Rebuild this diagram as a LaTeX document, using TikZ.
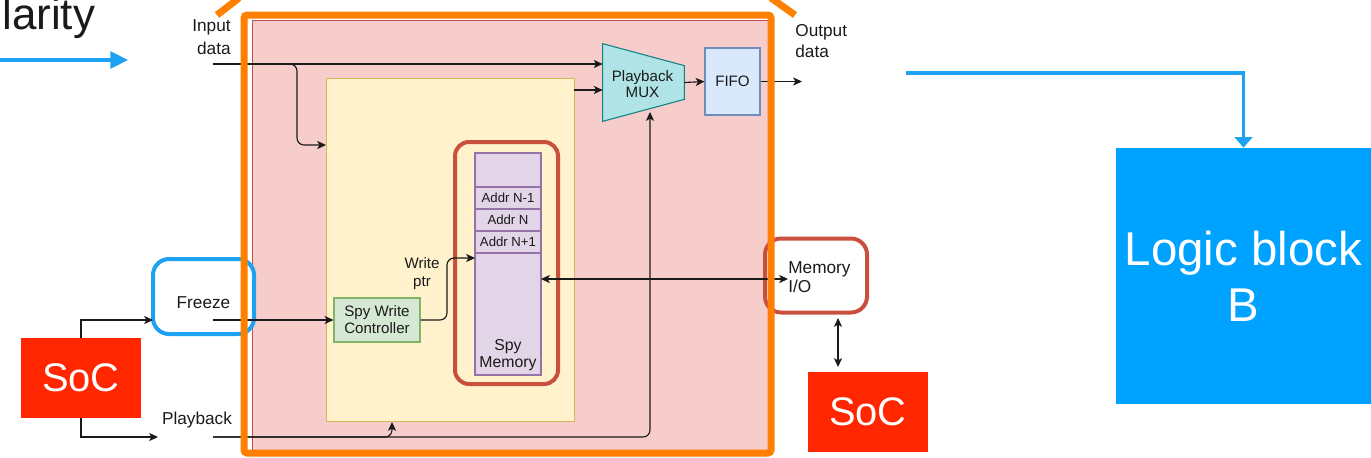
\documentclass[tikz,border=0pt]{standalone}
\usepackage{fontspec}
\setmainfont{Liberation Sans}
\usetikzlibrary{arrows.meta,calc}
\newcommand\pxu{0.02cm}
\definecolor{pinkf}{HTML}{F6CDCB}
\definecolor{pinkb}{HTML}{B85450}
\definecolor{yelf}{HTML}{FFF2CC}
\definecolor{yelb}{HTML}{D6B656}
\definecolor{muxf}{HTML}{B0E3E6}
\definecolor{muxb}{HTML}{0E8088}
\definecolor{fifof}{HTML}{DAE8FC}
\definecolor{fifob}{HTML}{6C8EBF}
\definecolor{memf}{HTML}{E1D5E7}
\definecolor{memb}{HTML}{9673A6}
\definecolor{swcf}{HTML}{D5E8D4}
\definecolor{swcb}{HTML}{82B366}
\definecolor{orng}{HTML}{FF8000}
\definecolor{ringc}{HTML}{C8503C}
\definecolor{bluec}{HTML}{1DA1F2}
\definecolor{socc}{HTML}{FF2600}
\definecolor{logicc}{HTML}{00A2FF}
\definecolor{txt}{HTML}{1A1A1A}
\begin{document}
\begin{tikzpicture}[x=0.02cm,y=-0.02cm,
  box/.style={draw, line width=0.6pt, inner sep=0pt, align=center, text=txt,
    font=\fontsize{8.6}{9.6}\selectfont},
  lbl/.style={inner sep=0pt, align=center, text=txt, font=\fontsize{9.8}{12.5}\selectfont},
  lbls/.style={inner sep=0pt, align=center, text=txt, font=\fontsize{8.6}{10.2}\selectfont},
  arr/.style={-{Stealth[length=5pt,width=4.6pt,inset=1.2pt]}, line width=0.65pt, draw=txt},
  biarr/.style={{Stealth[length=5pt,width=4.6pt,inset=1.2pt]}-{Stealth[length=5pt,width=4.6pt,inset=1.2pt]}, line width=0.65pt, draw=txt},
  hilite/.style={line width=4*\pxu, rounded corners=16*\pxu, inner sep=0pt},
  socbox/.style={fill=socc, text=white, inner sep=0pt, minimum width=120*\pxu,
    minimum height=80*\pxu, font=\fontsize{22.7}{27}\selectfont}
]
\useasboundingbox (0,0) rectangle (1371,457);

% title fragment and left blue arrow
\node[anchor=base west, inner sep=0pt, text=txt, font=\fontsize{25}{30}\selectfont] (larity) at (2,29) {larity};
\coordinate (barrL) at (0,60);
\coordinate (barrR) at (128,60);
\draw[bluec, line width=3.2*\pxu, -{Triangle[length=10pt,width=9.6pt]}] (barrL) -- (barrR);

% background blocks
\node[draw=pinkb, fill=pinkf, line width=0.4pt, inner sep=0pt,
  minimum width=516*\pxu, minimum height=430*\pxu] (pink) at (510,235) {};
\node[draw=yelb, fill=yelf, line width=0.5pt, inner sep=0pt,
  minimum width=248*\pxu, minimum height=343*\pxu] (yel) at (450,249.5) {};

% spy memory
\node[draw=ringc, line width=4*\pxu, rounded corners=14*\pxu, inner sep=0pt,
  minimum width=103*\pxu, minimum height=242*\pxu] (ring) at (506.5,263) {};
\node[box, draw=memb, fill=memf, minimum width=66*\pxu, minimum height=34*\pxu] (memtop) at (508,170) {};
\node[box, draw=memb, fill=memf, minimum width=66*\pxu, minimum height=22*\pxu, font=\fontsize{7.5}{9}\selectfont] (addra) at (508,198) {Addr N-1};
\node[box, draw=memb, fill=memf, minimum width=66*\pxu, minimum height=22*\pxu, font=\fontsize{7.5}{9}\selectfont] (addrb) at (508,220) {Addr N};
\node[box, draw=memb, fill=memf, minimum width=66*\pxu, minimum height=22*\pxu, font=\fontsize{7.5}{9}\selectfont] (addrc) at (508,242) {Addr N+1};
\node[box, draw=memb, fill=memf, minimum width=66*\pxu, minimum height=122*\pxu] (membot) at (508,314) {};
\node[lbls, font=\fontsize{9}{9.8}\selectfont] (spym) at (508,355) {Spy\\Memory};

% mux and fifo
\node[inner sep=0pt, minimum width=81*\pxu, minimum height=77*\pxu] (mux) at (643.5,82.5) {};
\draw[draw=muxb, fill=muxf, line width=0.6pt] (mux.north west) -- ($(mux.north east)+(0,22)$)
  -- ($(mux.south east)+(0,-22)$) -- (mux.south west) -- cycle;
\node[lbls, font=\fontsize{8.6}{9.4}\selectfont] (muxtxt) at (642.5,84) {Playback\\MUX};
\node[box, draw=fifob, fill=fifof, minimum width=55*\pxu, minimum height=67*\pxu] (fifo) at (732.5,81.5) {FIFO};

% spy write controller
\node[box, draw=swcb, fill=swcf, minimum width=86*\pxu, minimum height=44*\pxu] (swc) at (377,320) {Spy Write\\Controller};

% labels
\node[lbl, align=right, anchor=east, font=\fontsize{9.8}{13}\selectfont] (intxt) at (231,37) {Input\\data};
\node[lbl, align=left, anchor=west, font=\fontsize{9.8}{12}\selectfont] (outtxt) at (795,41) {Output\\data};
\node[lbl] (pbtxt) at (197,420) {Playback};
\node[lbl] (fztxt) at (203.5,303) {Freeze};
\node[lbls] (wptxt) at (422,274) {Write\\ptr};

% SoCs
\node[socbox] (socL) at (81,378) {SoC};
\node[socbox] (socR) at (868,412) {SoC};

% logic block
\node[fill=logicc, text=white, inner sep=0pt, minimum width=255*\pxu, minimum height=256*\pxu,
  align=center, font=\fontsize{27}{32}\selectfont] (logic) at (1243.5,276) {Logic block\\B};

% highlight boxes
\node[hilite, draw=bluec, minimum width=101*\pxu, minimum height=75*\pxu] (fzbox) at (203.5,296.5) {};
\node[hilite, draw=ringc, fill=white, minimum width=102*\pxu, minimum height=74*\pxu] (miobox) at (816,275.5) {};
\node[lbl, align=left, anchor=west, font=\fontsize{9.8}{11}\selectfont] (miotxt) at (788,277) {Memory\\I/O};

% connector end points
\coordinate (inp) at (213,64);
\coordinate (yin) at (326,145);
\coordinate (yout) at (574,90);
\coordinate (outp) at (802,81.5);
\coordinate (fzin) at (153,320);
\coordinate (pbin) at (158,437);
\coordinate (fzout) at (213,320);
\coordinate (pbout) at (213,437);
\coordinate (muxbot) at (650,112);
\coordinate (ybot) at (392,422);
\coordinate (memwp) at (475,258);
\coordinate (memR) at (541,279);
\coordinate (miobot) at (838,318);
\coordinate (socRtop) at (838,367);
\coordinate (bstart) at (906,73);

% connectors
\draw[arr] (inp) -- (inp -| mux.west);
\draw[arr, rounded corners=7*\pxu] (inp) -| ($(yin)+(-29,0)$) -- (yin);
\draw[arr] (yout) -- (yout -| mux.west);
\draw[arr] (mux.east) -- (fifo.west);
\draw[arr] (fifo.east) -- (outp);
\draw[arr] (socL.north) |- (fzin);
\draw[arr] (socL.south) |- (pbin);
\draw[arr] (fzout) -- (swc.west);
\draw[arr, rounded corners=7*\pxu] (pbout) -| (muxbot);
\draw[arr, rounded corners=7*\pxu] (pbout) -| (ybot);
\draw[arr, rounded corners=7*\pxu] (swc.east) -| ($(memwp)+(-28,0)$) -- (memwp);
\draw[biarr] (memR) -- (memR -| miotxt.west);
\draw[biarr] (miobot) -- (socRtop);
\draw[bluec, line width=3.2*\pxu, -{Triangle[length=6pt,width=10pt]}] (bstart) -| (logic.north);

% orange frame and zoom lines
\node[draw=orng, line width=7*\pxu, rounded corners=3*\pxu, inner sep=0pt,
  minimum width=527*\pxu, minimum height=438*\pxu] (orange) at (507.5,234) {};
\coordinate (zlA) at (217,15);
\coordinate (zlB) at (239,-2);
\coordinate (zrA) at (771,-2);
\coordinate (zrB) at (795,15);
\draw[orng, line width=7*\pxu] (zlA) -- (zlB);
\draw[orng, line width=7*\pxu] (zrA) -- (zrB);
\end{tikzpicture}
\end{document}
